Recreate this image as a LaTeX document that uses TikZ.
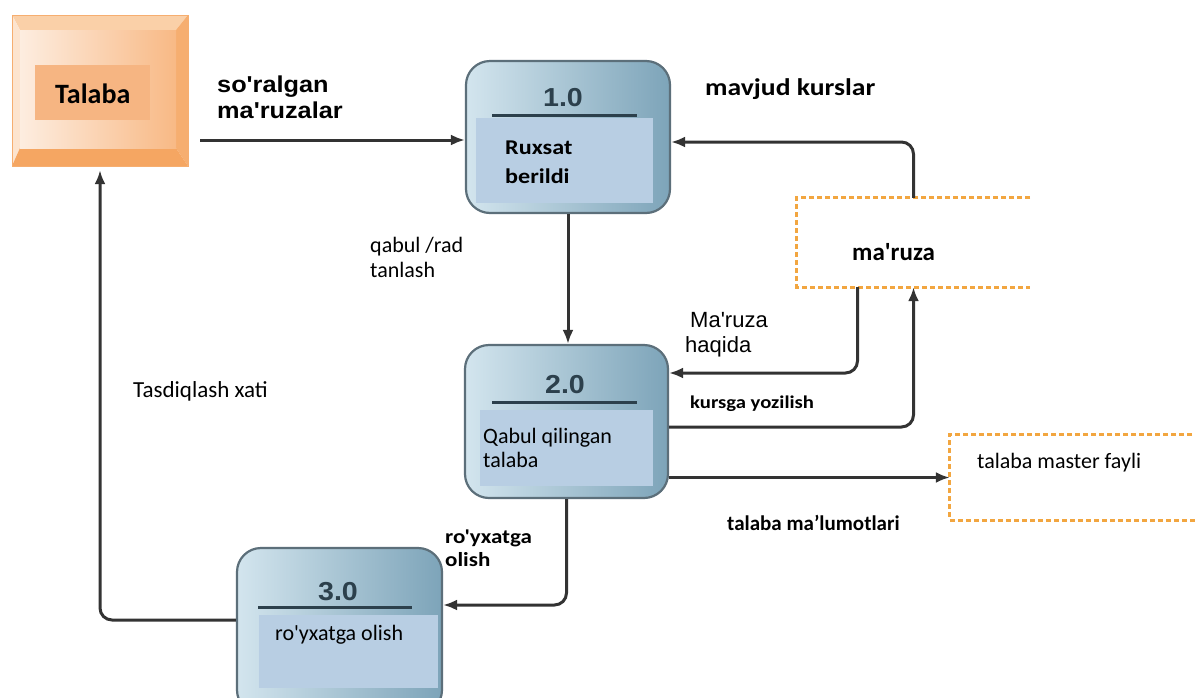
\documentclass[tikz,border=0pt]{standalone}
\usepackage{fontspec}
\setmainfont[Ligatures=TeXOff]{Carlito}
\newfontfamily\fCal[Ligatures=TeXOff]{Carlito}
\newfontfamily\fCalW[Ligatures=TeXOff,FakeStretch=1.15]{Carlito}
\newfontfamily\fAr[Ligatures=TeXOff]{Liberation Sans}
\newfontfamily\fArW[Ligatures=TeXOff,FakeStretch=1.1]{Liberation Sans}
\usetikzlibrary{arrows.meta,calc}
\definecolor{arrowgray}{HTML}{333333}
\definecolor{procL}{HTML}{D3E5EE}
\definecolor{procR}{HTML}{7DA4B9}
\definecolor{procborder}{HTML}{5C6F7A}
\definecolor{innerblue}{HTML}{B8CEE3}
\definecolor{titlecol}{HTML}{2C404C}
\definecolor{storeorange}{HTML}{F2A640}
\definecolor{orFace}{HTML}{F8B985}
\definecolor{orLight}{HTML}{FDEDE0}
\definecolor{orTop}{HTML}{FAD0A8}
\definecolor{orLeft}{HTML}{FDE4CE}
\definecolor{orRight}{HTML}{F6AE70}
\definecolor{orBottom}{HTML}{F5A662}
\definecolor{orInner}{HTML}{F6B582}
\begin{document}
\begin{tikzpicture}[x=1pt,y=-1pt,
  arr/.style={draw=arrowgray, line width=3pt, rounded corners=12pt, -{Latex[length=14pt,width=11pt]}},
  proc/.style={draw=procborder, line width=2.2pt, rounded corners=24pt, left color=procL, right color=procR, inner sep=0pt},
  store/.style={draw=storeorange, line width=3pt, dash pattern=on 5pt off 3pt},
  lbl/.style={inner sep=0pt, text=black},
  titlebar/.style={draw=titlecol, line width=3pt},
  titletxt/.style={inner sep=0pt, text=titlecol, font=\fArW\bfseries\fontsize{26}{26}\selectfont},
]
\useasboundingbox (0,0) rectangle (1195,697);
\fill[white] (0,0) rectangle (1195,697);

% Talaba external entity
\node[minimum width=176pt, minimum height=151pt, inner sep=0pt] (talaba) at (100,90.5) {};
\fill[orTop] (12,15) -- (188,15) -- (176,30) -- (20,30) -- cycle;
\fill[orLeft] (12,15) -- (20,30) -- (20,148) -- (12,166) -- cycle;
\fill[orRight] (188,15) -- (188,166) -- (176,148) -- (176,30) -- cycle;
\fill[orBottom] (12,166) -- (188,166) -- (176,148) -- (20,148) -- cycle;
\shade[left color=orLight, right color=orFace] (20,30) rectangle (176,148);
\fill[orInner] (35,65) rectangle (150,120);
\draw[orRight, line width=0.8pt] (12,15) rectangle (188,166);
\node[lbl, anchor=base west, font=\fCal\bfseries\fontsize{28}{30}\selectfont] (talabat) at (55,103) {Talaba};

% data stores
\node[minimum width=233pt, minimum height=89pt, inner sep=0pt] (s1) at (913.5,242.5) {};
\draw[store] (s1.north east) -- (s1.north west) -- (s1.south west) -- (s1.south east);
\node[lbl, anchor=base west, font=\fCal\bfseries\fontsize{25}{28}\selectfont] (s1t) at (852,260) {ma'ruza};

\node[minimum width=250pt, minimum height=85pt, inner sep=0pt] (s2) at (1075,477.5) {};
\draw[store] (s2.north east) -- (s2.north west) -- (s2.south west) -- (s2.south east);
\node[lbl, anchor=base west, font=\fCal\fontsize{22}{25}\selectfont] (s2t) at (977,468) {talaba master fayli};

% processes
\node[proc, minimum width=204pt, minimum height=152pt] (p1) at (568,137) {};
\fill[innerblue] (476,118) rectangle (653,203);
\draw[titlebar] (492,115) -- (637,115);
\node[titletxt, anchor=base] (p1n) at (563,106) {1.0};
\node[lbl, anchor=north west, align=left, font=\fCalW\bfseries\fontsize{21}{29}\selectfont] (p1t) at (505,140.7) {Ruxsat\\berildi};

\node[proc, minimum width=203pt, minimum height=153pt] (p2) at (566.5,421.5) {};
\fill[innerblue] (480,410) rectangle (653,486);
\draw[titlebar] (492,402) -- (637,402);
\node[titletxt, anchor=base] (p2n) at (565,393) {2.0};
\node[lbl, anchor=north west, align=left, font=\fCal\fontsize{22}{24}\selectfont] (p2t) at (483,428.5) {Qabul qilingan\\talaba};

\node[proc, minimum width=205pt, minimum height=166pt] (p3) at (339.5,631) {};
\fill[innerblue] (259,615) rectangle (438,688);
\draw[titlebar] (258,607) -- (412,607);
\node[titletxt, anchor=base] (p3n) at (338,600) {3.0};
\node[lbl, anchor=base west, font=\fCal\fontsize{22}{24}\selectfont] (p3t) at (275,640) {ro'yxatga olish};

% connectors
\coordinate (a1) at ($(talaba.east)+(12,0)$);
\draw[arr] (a1 |- 0,140) -- (p1.west |- 0,140);
\draw[arr] (s1.north) |- (p1.east |- 0,142);
\draw[arr] (p1.south) -- (p1.south |- p2.north);
\draw[arr] ($(s1.south)+(-56,0)$) |- (p2.east |- 0,373);
\draw[arr] (p2.east |- 0,427) -| (s1.south);
\draw[arr] (p2.east |- s2.west) -- (s2.west);
\draw[arr] (p2.south) |- (p3.east |- 0,605);
\draw[arr, shorten >=4pt] (p3.west |- 0,620) -| (talaba.south);

% labels
\node[lbl, anchor=north west, align=left, font=\fArW\bfseries\fontsize{23}{26}\selectfont] (lsm) at (217,75.5) {so'ralgan\\ma'ruzalar};
\node[lbl, anchor=base west, font=\fCalW\bfseries\fontsize{24}{28}\selectfont] (lmk) at (705,95) {mavjud kurslar};
\node[lbl, anchor=north west, align=left, font=\fCal\fontsize{22}{25}\selectfont] (lqr) at (370,237.5) {qabul /rad\\tanlash};
\node[lbl, anchor=north west, align=left, font=\fAr\fontsize{22}{25}\selectfont] (lmh) at (685,312) {\hspace*{5pt}Ma'ruza\\haqida};
\node[lbl, anchor=base west, font=\fCalW\bfseries\fontsize{18}{20}\selectfont] (lky) at (690,408) {kursga yozilish};
\node[lbl, anchor=base west, font=\fCal\bfseries\fontsize{21}{24}\selectfont] (ltm) at (727,530) {talaba ma’lumotlari};
\node[lbl, anchor=north west, align=left, font=\fCalW\bfseries\fontsize{20}{23}\selectfont] (lro) at (445,529.5) {ro'yxatga\\olish};
\node[lbl, anchor=base west, font=\fCal\fontsize{23}{26}\selectfont] (ltx) at (133,397) {Tasdiqlash xati};
\end{tikzpicture}
\end{document}
